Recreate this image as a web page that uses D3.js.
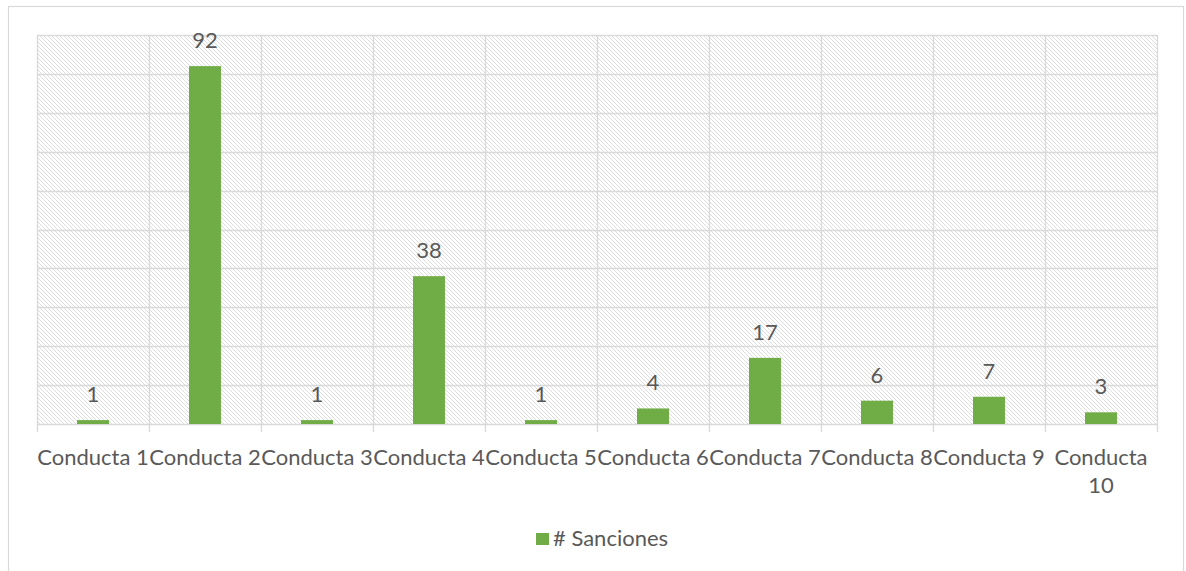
<!DOCTYPE html>
<html>
<head>
<meta charset="utf-8">
<script src="https://cdn.jsdelivr.net/npm/d3@7"></script>
<style>
  html, body { margin: 0; padding: 0; background: #fff; }
  svg { display: block; }
  text { font-family: Lato, "Open Sans", sans-serif; fill: #595959; }
</style>
</head>
<body>
<script>
// Sanctions per conduct type
const categories = ["Conducta 1", "Conducta 2", "Conducta 3", "Conducta 4", "Conducta 5",
                    "Conducta 6", "Conducta 7", "Conducta 8", "Conducta 9", "Conducta 10"];
const sanciones = [1, 92, 1, 38, 1, 4, 17, 6, 7, 3];
const yTicks = [0, 10, 20, 30, 40, 50, 60, 70, 80, 90, 100];
const seriesName = "# Sanciones";

const W = 1186, H = 571;
const plot = { left: 37, right: 1157, top: 35, bottom: 424 };
const barColor = "#70AD47";
const gridColor = "#D9D9D9";
const fontSize = 22;

const svg = d3.select("body").append("svg").attr("width", W).attr("height", H);

// diagonal hatch fill of the plot area
const defs = svg.append("defs");
const pat = defs.append("pattern")
  .attr("id", "hatch").attr("patternUnits", "userSpaceOnUse")
  .attr("width", 4).attr("height", 4);
pat.append("rect").attr("width", 4).attr("height", 4).attr("fill", "#fff");
pat.append("path").attr("d", "M-1,-1 L5,5 M-1,3 L1,5 M3,-1 L5,1")
  .attr("stroke", "#DDDDDD").attr("stroke-width", 1);

// chart frame
svg.append("rect")
  .attr("x", 8.5).attr("y", 6.5).attr("width", 1175).attr("height", 600)
  .attr("fill", "#fff").attr("stroke", gridColor).attr("stroke-width", 1.2);

const x = d3.scaleBand().domain(categories).range([plot.left, plot.right])
  .paddingInner(0).paddingOuter(0);
const y = d3.scaleLinear().domain([0, 100]).range([plot.bottom, plot.top]);

svg.append("rect")
  .attr("x", plot.left).attr("y", plot.top)
  .attr("width", plot.right - plot.left).attr("height", plot.bottom - plot.top)
  .attr("fill", "url(#hatch)");

// horizontal gridlines
svg.append("g").selectAll("line").data(yTicks).join("line")
  .attr("x1", plot.left).attr("x2", plot.right)
  .attr("y1", d => Math.round(y(d)) + 0.5).attr("y2", d => Math.round(y(d)) + 0.5)
  .attr("stroke", gridColor).attr("stroke-width", 1.3);

// vertical category separators, extending below the axis as tick marks
const bounds = categories.map(c => x(c)).concat([plot.right]);
svg.append("g").selectAll("line").data(bounds).join("line")
  .attr("x1", d => Math.round(d) + 0.5).attr("x2", d => Math.round(d) + 0.5)
  .attr("y1", plot.top).attr("y2", plot.bottom + 8)
  .attr("stroke", gridColor).attr("stroke-width", 1.3);

// bars
const barW = 32;
svg.append("g").selectAll("rect").data(sanciones).join("rect")
  .attr("x", (d, i) => x(categories[i]) + x.bandwidth() / 2 - barW / 2)
  .attr("y", d => y(d))
  .attr("width", barW)
  .attr("height", d => y(0) - y(d))
  .attr("fill", barColor);

// value labels
svg.append("g").selectAll("text").data(sanciones).join("text")
  .attr("x", (d, i) => x(categories[i]) + x.bandwidth() / 2)
  .attr("y", d => y(d) - 18)
  .attr("text-anchor", "middle")
  .attr("font-size", fontSize)
  .text(d => d);

// category labels (wrapped when wider than the band)
const cat = svg.append("g").selectAll("text").data(categories).join("text")
  .attr("x", d => x(d) + x.bandwidth() / 2)
  .attr("y", 465)
  .attr("text-anchor", "middle")
  .attr("font-size", fontSize);
cat.each(function (d) {
  const t = d3.select(this);
  const words = d.split(" ");
  if (d === "Conducta 10") {
    t.append("tspan").attr("x", t.attr("x")).text(words[0]);
    t.append("tspan").attr("x", t.attr("x")).attr("dy", 28).text(words[1]);
  } else {
    t.text(d);
  }
});

// legend
const leg = svg.append("g");
leg.append("rect").attr("x", 536).attr("y", 533).attr("width", 13).attr("height", 12).attr("fill", barColor);
leg.append("text").attr("x", 553).attr("y", 546).attr("font-size", fontSize).text(seriesName);
</script>
</body>
</html>
